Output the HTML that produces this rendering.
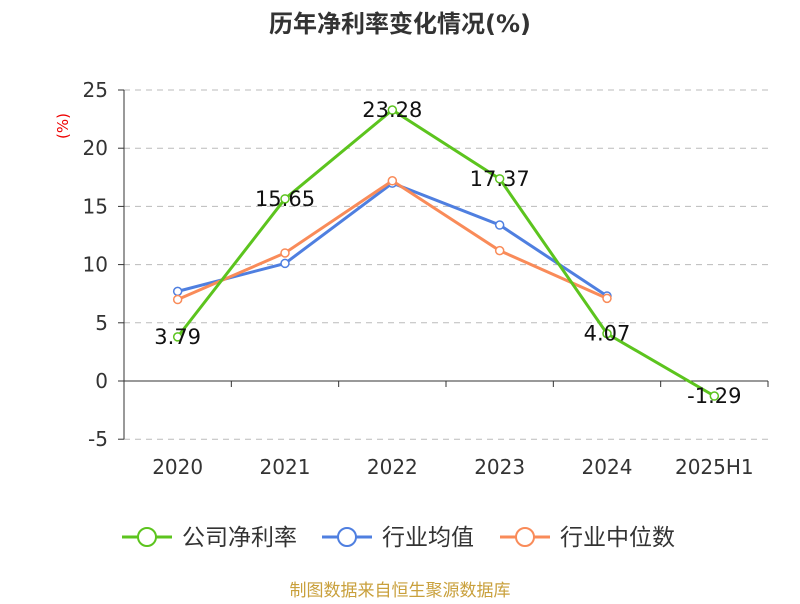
<!DOCTYPE html>
<html><head><meta charset="utf-8"><style>
body{margin:0;background:#fff;font-family:"DejaVu Sans","Noto Sans CJK SC",sans-serif}
</style></head><body>
<svg id="c" width="800" height="600" xmlns="http://www.w3.org/2000/svg" style="font-family:'DejaVu Sans','Noto Sans CJK SC',sans-serif">
<text x="400" y="32" text-anchor="middle" font-size="24" font-weight="bold" fill="#333">历年净利率变化情况(%)</text>
<text transform="translate(68,126) rotate(-90)" text-anchor="middle" font-size="15" fill="#e00">(%)</text>
<g id="grid"></g><g id="axes"></g><g id="series"></g>
<g font-size="23" fill="#333">
<g><line x1="122" y1="537" x2="172" y2="537" stroke="#5cc41e" stroke-width="3"/><circle cx="147" cy="537" r="9" fill="#fff" stroke="#5cc41e" stroke-width="2"/><text x="182" y="545">公司净利率</text></g>
<g><line x1="322" y1="537" x2="372" y2="537" stroke="#4f7fe0" stroke-width="3"/><circle cx="347" cy="537" r="9" fill="#fff" stroke="#4f7fe0" stroke-width="2"/><text x="382" y="545">行业均值</text></g>
<g><line x1="500" y1="537" x2="550" y2="537" stroke="#f98b59" stroke-width="3"/><circle cx="525" cy="537" r="9" fill="#fff" stroke="#f98b59" stroke-width="2"/><text x="560" y="545">行业中位数</text></g>
</g>
<text x="400" y="596" text-anchor="middle" font-size="17" fill="#c9a03c">制图数据来自恒生聚源数据库</text>
</svg>
<script>
const categories=["2020","2021","2022","2023","2024","2025H1"];
const company=[3.79,15.65,23.28,17.37,4.07,-1.29];
const industryAvg=[7.7,10.1,17.0,13.4,7.3];
const industryMedian=[7.0,11.0,17.2,11.2,7.1];
const yTicks=[25,20,15,10,5,0,-5];
const NS="http://www.w3.org/2000/svg";
const x0=124,x1=768,step=(x1-x0)/categories.length;
const xs=i=>x0+step*(i+0.5);
const ys=v=>381-v*11.64;
function mk(p,t,a){const e=document.createElementNS(NS,t);for(const k in a)e.setAttribute(k,a[k]);p.appendChild(e);return e;}
const grid=document.getElementById('grid'),axes=document.getElementById('axes'),ser=document.getElementById('series');
yTicks.forEach(v=>{
 if(v!==0){const g=mk(grid,'line',{x1:x0,x2:x1,y1:ys(v),y2:ys(v),stroke:'#bbb','stroke-dasharray':'6,5'});
 
 }
 const t=mk(axes,'line',{x1:x0-6,x2:x0,y1:ys(v),y2:ys(v),stroke:'#333'});
 
 
 const l=mk(axes,'text',{x:x0-16,y:ys(v)+7,'text-anchor':'end','font-size':20,fill:'#333'});l.textContent=v;
 
 
});
const ya=mk(axes,'line',{x1:x0,x2:x0,y1:ys(25),y2:ys(-5),stroke:'#333'});


const xa=mk(axes,'line',{x1:x0,x2:x1,y1:ys(0),y2:ys(0),stroke:'#333'});


for(let i=0;i<=categories.length;i++){const t=mk(axes,'line',{x1:x0+step*i,x2:x0+step*i,y1:ys(0),y2:ys(0)+6,stroke:'#333'});
 
 }
categories.forEach((c,i)=>{const l=mk(axes,'text',{x:xs(i),y:474,'text-anchor':'middle','font-size':20,fill:'#333'});l.textContent=c;
 
 });
function series(data,color,name,labels){
 const pl=mk(ser,'polyline',{points:data.map((v,i)=>xs(i)+','+ys(v)).join(' '),fill:'none',stroke:color,'stroke-width':3});
 
 
 data.forEach((v,i)=>{const c=mk(ser,'circle',{cx:xs(i),cy:ys(v),r:4,fill:'#fff',stroke:color,'stroke-width':1.5});
  
  
  if(labels){const t=mk(ser,'text',{x:xs(i),y:ys(v)+7,'text-anchor':'middle','font-size':21,fill:'#111'});t.textContent=v.toFixed(2);
   
   }
 });
}
series(industryAvg,'#4f7fe0','industry-avg',false);
series(industryMedian,'#f98b59','industry-median',false);
series(company,'#5cc41e','company',true);
</script>
</body></html>
